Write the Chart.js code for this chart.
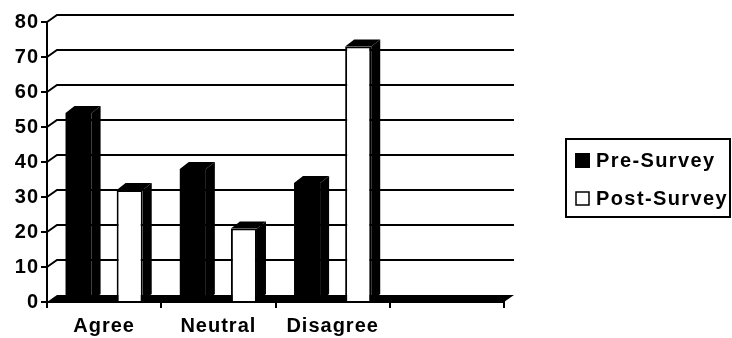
<!DOCTYPE html>
<html><head><meta charset="utf-8">
<script src="https://cdn.jsdelivr.net/npm/chart.js@4/dist/chart.umd.min.js"></script>
<style>html,body{margin:0;padding:0;background:#fff}#wrap{width:732px;height:338px;position:relative}</style>
</head><body><div id="wrap"><canvas id="c" width="732" height="338"></canvas></div>
<script>
const categories = ['Agree', 'Neutral', 'Disagree', ''];
const preSurvey = [54, 38, 34, null];
const postSurvey = [32, 21, 73, null];
const seriesNames = ['Pre-Survey', 'Post-Survey'];
const yMin = 0, yMax = 80, yStep = 10;

const FONT = "'Liberation Sans', Arial, sans-serif";
const DX = 10, DY = 7;   // depth of back wall
const BDX = 9, BDY = 7;  // depth of bars

const canvas = document.getElementById('c');

const spacingPlugin = {
  id: 'spacing',
  beforeLayout(chart) { chart.ctx.letterSpacing = '1px'; },
  beforeDraw(chart) { chart.ctx.letterSpacing = '1px'; }
};

const wallPlugin = {
  id: 'wall',
  beforeDatasetsDraw(chart) {
    const ctx = chart.ctx, y = chart.scales.y, a = chart.chartArea;
    ctx.save();
    ctx.strokeStyle = '#000'; ctx.lineWidth = 2;
    y.ticks.forEach(t => {
      const py = y.getPixelForValue(t.value);
      if (t.value === 0) return;
      ctx.beginPath();
      ctx.moveTo(a.left, py);
      ctx.lineTo(a.left + DX, py - DY);
      ctx.lineTo(a.right + DX, py - DY);
      ctx.stroke();
    });
    const p0 = y.getPixelForValue(0);
    ctx.fillStyle = '#000';
    ctx.beginPath();
    ctx.moveTo(a.left, p0);
    ctx.lineTo(a.left + DX, p0 - DY);
    ctx.lineTo(a.right + DX, p0 - DY);
    ctx.lineTo(a.right, p0);
    ctx.closePath(); ctx.fill();
    ctx.restore();
  }
};

const barPlugin = {
  id: 'bars3d',
  afterDatasetsDraw(chart) {
    const ctx = chart.ctx;
    ctx.save();
    chart.data.datasets.forEach((ds, di) => {
      const meta = chart.getDatasetMeta(di);
      meta.data.forEach((bar, i) => {
        if (ds.data[i] == null) return;
        const p = bar.getProps(['x', 'y', 'base', 'width'], true);
        const l = p.x - p.width / 2, r = p.x + p.width / 2;
        ctx.fillStyle = '#000';
        ctx.beginPath();
        ctx.moveTo(r, p.y); ctx.lineTo(r + BDX, p.y - BDY);
        ctx.lineTo(r + BDX, p.base - BDY); ctx.lineTo(r, p.base);
        ctx.closePath(); ctx.fill();
        ctx.beginPath();
        ctx.moveTo(l, p.y); ctx.lineTo(l + BDX, p.y - BDY);
        ctx.lineTo(r + BDX, p.y - BDY); ctx.lineTo(r, p.y);
        ctx.closePath(); ctx.fill();
      });
    });
    ctx.restore();
  }
};

const legendPlugin = {
  id: 'boxLegend',
  afterDraw(chart) {
    const ctx = chart.ctx;
    ctx.save();
    ctx.strokeStyle = '#000'; ctx.lineWidth = 2;
    ctx.strokeRect(566, 139, 164, 78);
    ctx.font = 'bold 20px ' + FONT;
    ctx.letterSpacing = '1.4px';
    ctx.textBaseline = 'middle';
    chart.data.datasets.forEach((ds, i) => {
      const cy = 160 + i * 38;
      ctx.lineWidth = 1.5;
      if (i === 0) { ctx.fillStyle = '#000'; ctx.fillRect(575, cy - 7, 15, 15); }
      else { ctx.fillStyle = '#fff'; ctx.fillRect(576, cy - 6, 13, 13); ctx.strokeStyle = '#000'; ctx.strokeRect(576, cy - 6, 13, 13); }
      ctx.fillStyle = '#000';
      ctx.fillText(ds.label, 596, cy + 1);
    });
    ctx.restore();
  }
};

new Chart(canvas, {
  type: 'bar',
  data: {
    labels: categories,
    datasets: [
      { label: seriesNames[0], data: preSurvey, backgroundColor: '#000', borderColor: '#000', borderWidth: 0 },
      { label: seriesNames[1], data: postSurvey, backgroundColor: '#fff', borderColor: '#000', borderWidth: 2 }
    ]
  },
  options: {
    responsive: false, animation: false,
    layout: { padding: { top: 22, right: 228, bottom: 0, left: 0 } },
    datasets: { bar: { barPercentage: 0.51, categoryPercentage: 0.895 } },
    plugins: { legend: { display: false }, tooltip: { enabled: false } },
    scales: {
      x: {
        afterFit(s) { s.height = 36; },
        grid: { display: true, drawOnChartArea: false, drawTicks: true, tickLength: 6, color: '#000', lineWidth: 2, offset: true },
        border: { display: true, color: '#000', width: 2 },
        ticks: { color: '#000', font: { family: FONT, size: 20, weight: 'bold', lineHeight: 1.2 }, padding: 6, maxRotation: 0 }
      },
      y: {
        min: yMin, max: yMax,
        afterFit(s) { s.width = 47; },
        grid: { display: true, drawOnChartArea: false, drawTicks: true, tickLength: 6, color: '#000', lineWidth: 2 },
        border: { display: true, color: '#000', width: 2 },
        ticks: { stepSize: yStep, color: '#000', font: { family: FONT, size: 20, weight: 'bold' }, padding: 2 }
      }
    }
  },
  plugins: [spacingPlugin, wallPlugin, barPlugin, legendPlugin]
});
</script></body></html>
